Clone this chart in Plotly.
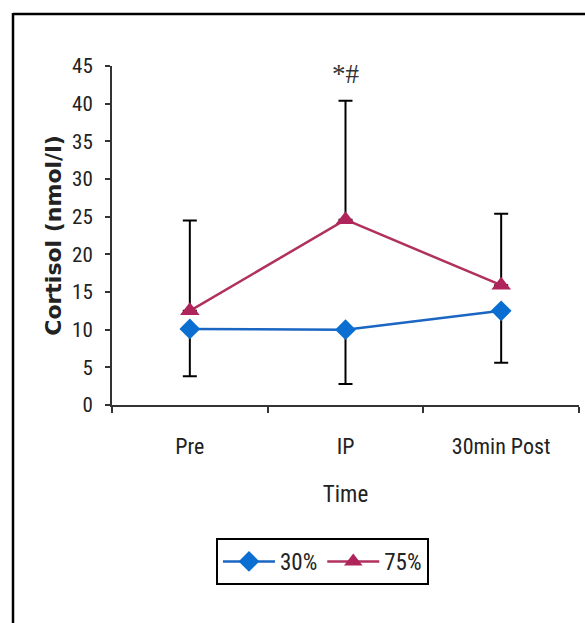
import plotly.graph_objects as go

# ---- data ----
categories = ["Pre", "IP", "30min Post"]
mean_30 = [10.1, 10.0, 12.5]
sd_30 = [6.3, 7.2, 6.9]          # drawn downward only
mean_75 = [12.5, 24.6, 15.9]
sd_75 = [12.0, 15.8, 9.5]        # drawn upward only
y_ticks = [0, 5, 10, 15, 20, 25, 30, 35, 40, 45]
sig_label = "*#"
sig_category = "IP"
sig_y = 44

# ---- layout geometry (pixels) ----
W, H = 585, 623
L, R, T, B = 112, 6, 66, 218
pw, ph = W - L - R, H - T - B

def px_x(p):
    return (p - L) / pw

def px_y(p):
    return (H - B - p) / ph

NARROW = "Liberation Sans Narrow, Arial Narrow, Roboto Condensed, sans-serif"
BLUE_LINE = "#1a66c2"
BLUE_MK = "#0a6fd0"
MAG_LINE = "#b0305e"
MAG_MK = "#b0245c"
TXT = "#222222"

fig = go.Figure()
fig.add_trace(go.Scatter(
    x=categories, y=mean_30, name="30%", mode="lines+markers",
    line=dict(color=BLUE_LINE, width=2.5),
    marker=dict(symbol="diamond", size=16, color=BLUE_MK),
    error_y=dict(type="data", symmetric=False, array=[0] * len(sd_30),
                 arrayminus=sd_30, color="black", thickness=2, width=7),
))
fig.add_trace(go.Scatter(
    x=categories, y=mean_75, name="75%", mode="lines+markers",
    line=dict(color=MAG_LINE, width=2.5),
    marker=dict(symbol="triangle-up", size=17, color=MAG_MK),
    error_y=dict(type="data", symmetric=False, array=sd_75,
                 arrayminus=[0] * len(sd_75), color="black", thickness=2, width=7),
))

fig.add_annotation(x=sig_category, y=sig_y, xref="x", yref="y", text=sig_label,
                   showarrow=False,
                   font=dict(family="Liberation Serif, Times New Roman, serif",
                             size=27, color="#333333"),
                   yanchor="middle")

# outer frame (top and left edges)
fig.add_shape(type="line", xref="paper", yref="paper",
              x0=px_x(13), x1=px_x(W + 5), y0=px_y(14), y1=px_y(14),
              line=dict(color="black", width=2.5))
fig.add_shape(type="line", xref="paper", yref="paper",
              x0=px_x(13), x1=px_x(13), y0=px_y(13), y1=px_y(H + 5),
              line=dict(color="black", width=2.5))

fig.update_layout(
    width=W, height=H,
    margin=dict(l=L, r=R, t=T, b=B, pad=0),
    paper_bgcolor="white", plot_bgcolor="white",
    showlegend=True,
    legend=dict(orientation="h", x=px_x(216), y=px_y(538), xanchor="left", yanchor="top",
                bordercolor="black", borderwidth=2, bgcolor="white",
                font=dict(family=NARROW, size=23, color=TXT),
                itemwidth=52, tracegroupgap=0),
    xaxis=dict(
        type="category", range=[-0.5, 2.5], tickson="boundaries",
        ticks="outside", ticklen=6, tickwidth=1.5, tickcolor="#333333",
        showline=True, linecolor="#333333", linewidth=2, showgrid=False, zeroline=False,
        tickfont=dict(family=NARROW, size=22, color=TXT),
        ticklabelstandoff=21,
        title=dict(text="Time", font=dict(family=NARROW, size=23, color=TXT), standoff=27),
    ),
    yaxis=dict(
        range=[0, 45], tickvals=y_ticks, ticks="outside", ticklen=5, tickwidth=1.5,
        tickcolor="#333333", showline=True, linecolor="#333333", linewidth=2,
        showgrid=False, zeroline=False,
        tickfont=dict(family=NARROW, size=21, color=TXT),
        ticklabelstandoff=8,
        title=dict(text="<b>Cortisol (nmol/l)</b>",
                   font=dict(family="DejaVu Sans, Arial, sans-serif", size=22, color=TXT),
                   standoff=4),
    ),
)

fig.write_html("out.html", config={"displayModeBar": False},
               post_script="document.body.style.margin='0';document.body.style.padding='0';")
